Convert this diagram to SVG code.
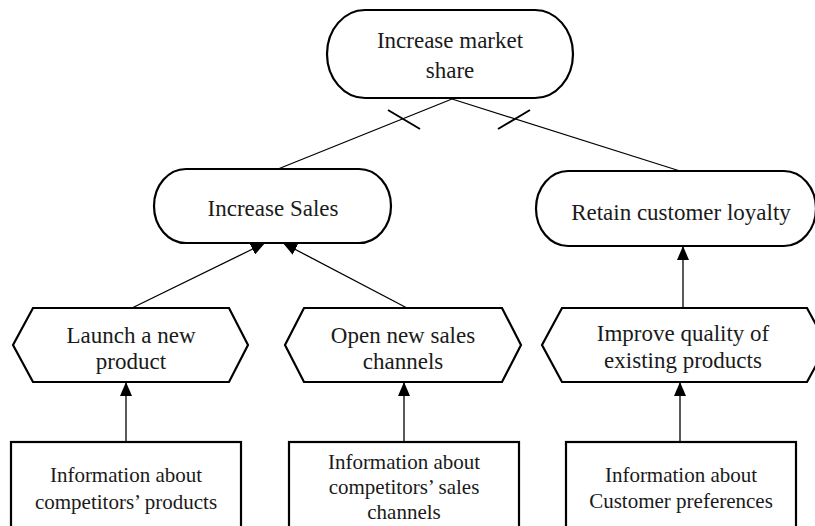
<svg xmlns="http://www.w3.org/2000/svg" width="815" height="526" viewBox="0 0 815 526">
<defs>
<marker id="arr" viewBox="0 0 14 12" refX="14" refY="6" markerWidth="14" markerHeight="12" markerUnits="userSpaceOnUse" orient="auto">
<path d="M0,0 L14,6 L0,12 Z" fill="#000"/>
</marker>
</defs>
<style>
.node{fill:#fff;stroke:#000;stroke-width:2.2}
text{font-family:"Times New Roman",Times,"Liberation Serif","Noto Serif","DejaVu Serif",serif}
.t{font-size:23px;fill:#1a1a1a;text-anchor:middle}
.s{font-size:21px;fill:#1a1a1a;text-anchor:middle}
.c{fill:none;stroke:#000;stroke-width:1.3}
.tick{fill:none;stroke:#000;stroke-width:2}
</style>
<rect width="815" height="526" fill="#fff"/>
<g id="connectors">
<line class="c" x1="452" y1="99" x2="278" y2="169"/>
<line class="c" x1="452" y1="99" x2="680" y2="171"/>
<line class="tick" x1="388" y1="110" x2="420" y2="129"/>
<line class="tick" x1="530" y1="110" x2="498" y2="129"/>
<line class="c" x1="132" y1="308" x2="265" y2="243" marker-end="url(#arr)"/>
<line class="c" x1="407" y1="308" x2="283" y2="243" marker-end="url(#arr)"/>
<line class="c" x1="683" y1="308" x2="683" y2="246" marker-end="url(#arr)"/>
<line class="c" x1="126" y1="442" x2="126" y2="382" marker-end="url(#arr)"/>
<line class="c" x1="404" y1="442" x2="404" y2="382" marker-end="url(#arr)"/>
<line class="c" x1="680" y1="442" x2="680" y2="382" marker-end="url(#arr)"/>
</g>
<g id="n-market">
<rect class="node" x="327" y="10" width="246" height="88" rx="38" ry="44"/>
<text class="t" x="450" y="48">Increase market</text>
<text class="t" x="450" y="78">share</text>
</g>
<g id="n-sales">
<rect class="node" x="154" y="169" width="237" height="74" rx="32" ry="37"/>
<text class="t" x="273" y="216">Increase Sales</text>
</g>
<g id="n-loyalty">
<rect class="node" x="536" y="171" width="280" height="75" rx="32" ry="37.5"/>
<text class="t" x="681" y="220">Retain customer loyalty</text>
</g>
<g id="n-launch">
<polygon class="node" points="13,345 33,308 229,308 248,345 229,382 33,382"/>
<text class="t" x="131" y="343">Launch a new</text>
<text class="t" x="131" y="369">product</text>
</g>
<g id="n-open">
<polygon class="node" points="285,345 304,308 502,308 521,345 502,382 304,382"/>
<text class="t" x="403" y="343">Open new sales</text>
<text class="t" x="403" y="369">channels</text>
</g>
<g id="n-improve">
<polygon class="node" points="542,345 562,308 807,308 827,345 807,382 562,382"/>
<text class="t" x="683" y="341">Improve quality of</text>
<text class="t" x="683" y="368">existing products</text>
</g>
<g id="i-products">
<rect class="node" x="11" y="442" width="230" height="100"/>
<text class="s" x="126" y="482">Information about</text>
<text class="s" x="126" y="509">competitors’ products</text>
</g>
<g id="i-channels">
<rect class="node" x="289" y="442" width="230" height="100"/>
<text class="s" x="404" y="469">Information about</text>
<text class="s" x="404" y="494">competitors’ sales</text>
<text class="s" x="404" y="519">channels</text>
</g>
<g id="i-prefs">
<rect class="node" x="566" y="442" width="230" height="100"/>
<text class="s" x="681" y="482">Information about</text>
<text class="s" x="681" y="508">Customer preferences</text>
</g>
</svg>
